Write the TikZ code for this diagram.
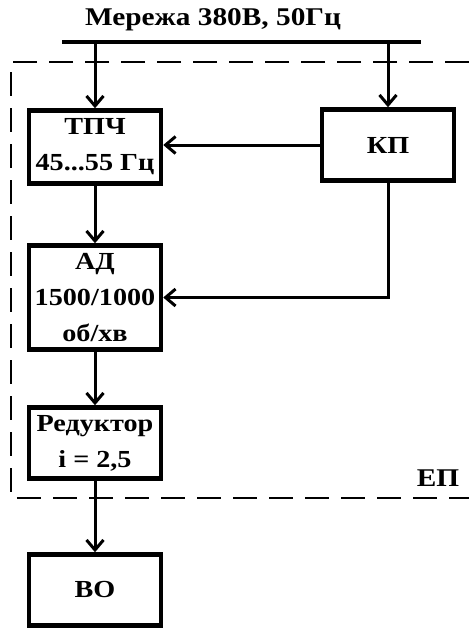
\documentclass[tikz,border=0pt]{standalone}
\usepackage{fontspec}
\setmainfont{Liberation Serif}[FakeStretch=1.15]
\usetikzlibrary{arrows.meta}

\begin{document}
\begin{tikzpicture}[x=1pt,y=-1pt,
    block/.style={draw, line width=4.5pt, minimum width=132pt, inner sep=1pt,
      align=center, font=\bfseries\fontsize{24.5}{36}\selectfont},
    conn/.style={line width=3pt, -{Straight Barb[length=10pt,width=17pt,line width=3pt]}},
    label/.style={font=\bfseries\fontsize{25.5}{30}\selectfont}]
  \useasboundingbox (0,0) rectangle (469,630);

  % supply bus
  \node[label] (net) at (213,20) {Мережа 380В, 50Гц};
  \coordinate (busL) at (62,42);
  \coordinate (busR) at (421,42);
  \draw[line width=4pt] (busL) -- (busR);

  % drive boundary
  \draw[line width=1.8pt, dash pattern=on 24pt off 12pt]
    (469,62) -- (11,62) -- (11,498) -- (469,498);
  \node[label] (ep) at (438,478) {ЕП};

  % blocks
  \node[block, minimum height=73pt] (tpch) at (95,147) {ТПЧ\\45...55 Гц};
  \node[block, minimum height=71pt] (kp) at (388,145) {КП};
  \node[block, minimum height=104pt] (ad) at (95,297.5) {АД\\1500/1000\\об/хв};
  \node[block, minimum height=71pt] (red) at (95,443) {Редуктор\\i = 2,5};
  \node[block, minimum height=71pt] (vo) at (95,590) {ВО};

  % connections
  \draw[conn] (tpch.north |- busL) -- (tpch.north);
  \draw[conn] (kp.north |- busR) -- (kp.north);
  \draw[conn] (kp.west) -- (kp.west -| tpch.east);
  \draw[conn] (tpch) -- (ad);
  \draw[conn] (kp.south) |- (ad.east);
  \draw[conn] (ad) -- (red);
  \draw[conn] (red) -- (vo);
\end{tikzpicture}
\end{document}
